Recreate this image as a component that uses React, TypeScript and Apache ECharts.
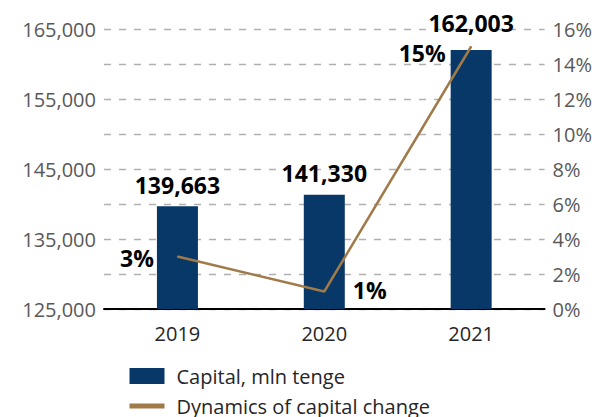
import React, { useEffect, useRef } from "react";
import * as echarts from "echarts";

const categories = ["2019", "2020", "2021"];
const capital = [139663, 141330, 162003];
const change = [3, 1, 15];
const leftTicks = { min: 125000, max: 165000, step: 5000 };
const rightTicks = { min: 0, max: 16, step: 2 };

const fmt = (v: number) => String(v).replace(/\B(?=(\d{3})+(?!\d))/g, ",");

const BAR = "#083867";
const LINE = "#a07a48";
const FONT = "Open Sans";

export default function App() {
  const ref = useRef<HTMLDivElement>(null);
  useEffect(() => {
    if (!ref.current) return;
    const chart = echarts.init(ref.current, null, { renderer: "svg" });
    const barLabelDist = [10, 10, 15];
    const linePos: any[] = [
      { position: "left", distance: 23, offset: [0, 1] },
      { position: "right", distance: 28, offset: [0, -2] },
      { position: "left", distance: 25, offset: [0, 6] },
    ];
    chart.setOption({
      animation: false,
      textStyle: { fontFamily: FONT },
      grid: { left: 104, right: 50, top: 29, bottom: 108, containLabel: false },
      legend: {
        orient: "vertical",
        left: 127,
        top: 366,
        height: 60,
        padding: 0,
        itemWidth: 35,
        itemHeight: 16,
        itemGap: 10,
        textStyle: { fontFamily: FONT, fontSize: 20, color: "#262626", padding: [0, 0, 0, 7] },
        data: [
          { name: "Capital, mln tenge", icon: "rect" },
          { name: "Dynamics of capital change", itemStyle: { opacity: 0 }, lineStyle: { width: 5, color: LINE } },
        ],
      },
      xAxis: {
        type: "category",
        data: categories,
        axisLine: { show: true, lineStyle: { color: "#000", width: 2 } },
        axisTick: { show: false },
        axisLabel: { fontFamily: FONT, fontSize: 20, color: "#262626", margin: 14 },
      },
      yAxis: [
        {
          type: "value",
          min: leftTicks.min,
          max: leftTicks.max,
          interval: leftTicks.step,
          axisLine: { show: false },
          axisTick: { show: false },
          splitLine: { show: false },
          axisLabel: {
            fontFamily: FONT,
            fontSize: 20,
            color: "#595959",
            margin: 8,
            formatter: (v: number) => ((v - leftTicks.min) % 10000 === 0 ? fmt(v) : ""),
          },
        },
        {
          type: "value",
          min: rightTicks.min,
          max: rightTicks.max,
          interval: rightTicks.step,
          position: "right",
          axisLine: { show: false },
          axisTick: { show: false },
          splitLine: { show: true, lineStyle: { type: [7, 8], color: "#b0b0b0", width: 1.3 } },
          axisLabel: {
            fontFamily: FONT,
            fontSize: 20,
            color: "#595959",
            margin: 8,
            formatter: (v: number) => v + "%",
          },
        },
      ],
      series: [
        {
          name: "Capital, mln tenge",
          type: "bar",
          yAxisIndex: 0,
          barWidth: 41,
          itemStyle: { color: BAR },
          data: capital.map((v, i) => ({
            value: v,
            label: {
              show: true,
              position: "top",
              distance: barLabelDist[i],
              formatter: (p: any) => fmt(p.value),
              fontFamily: FONT,
              fontWeight: "bold",
              fontSize: 23,
              color: "#000",
            },
          })),
          z: 2,
        },
        {
          name: "Dynamics of capital change",
          type: "line",
          yAxisIndex: 1,
          symbol: "circle",
          symbolSize: 1,
          itemStyle: { color: LINE },
          lineStyle: { color: LINE, width: 2.5 },
          data: change.map((v, i) => ({
            value: v,
            label: {
              show: true,
              ...linePos[i],
              formatter: (p: any) => p.value + "%",
              fontFamily: FONT,
              fontWeight: "bold",
              fontSize: 23,
              color: "#000",
            },
          })),
          z: 3,
        },
      ],
    });
    return () => chart.dispose();
  }, []);
  return (
    <div
      ref={ref}
      style={{ position: "fixed", left: 0, top: 0, width: 595, height: 417, background: "#fff" }}
    />
  );
}
